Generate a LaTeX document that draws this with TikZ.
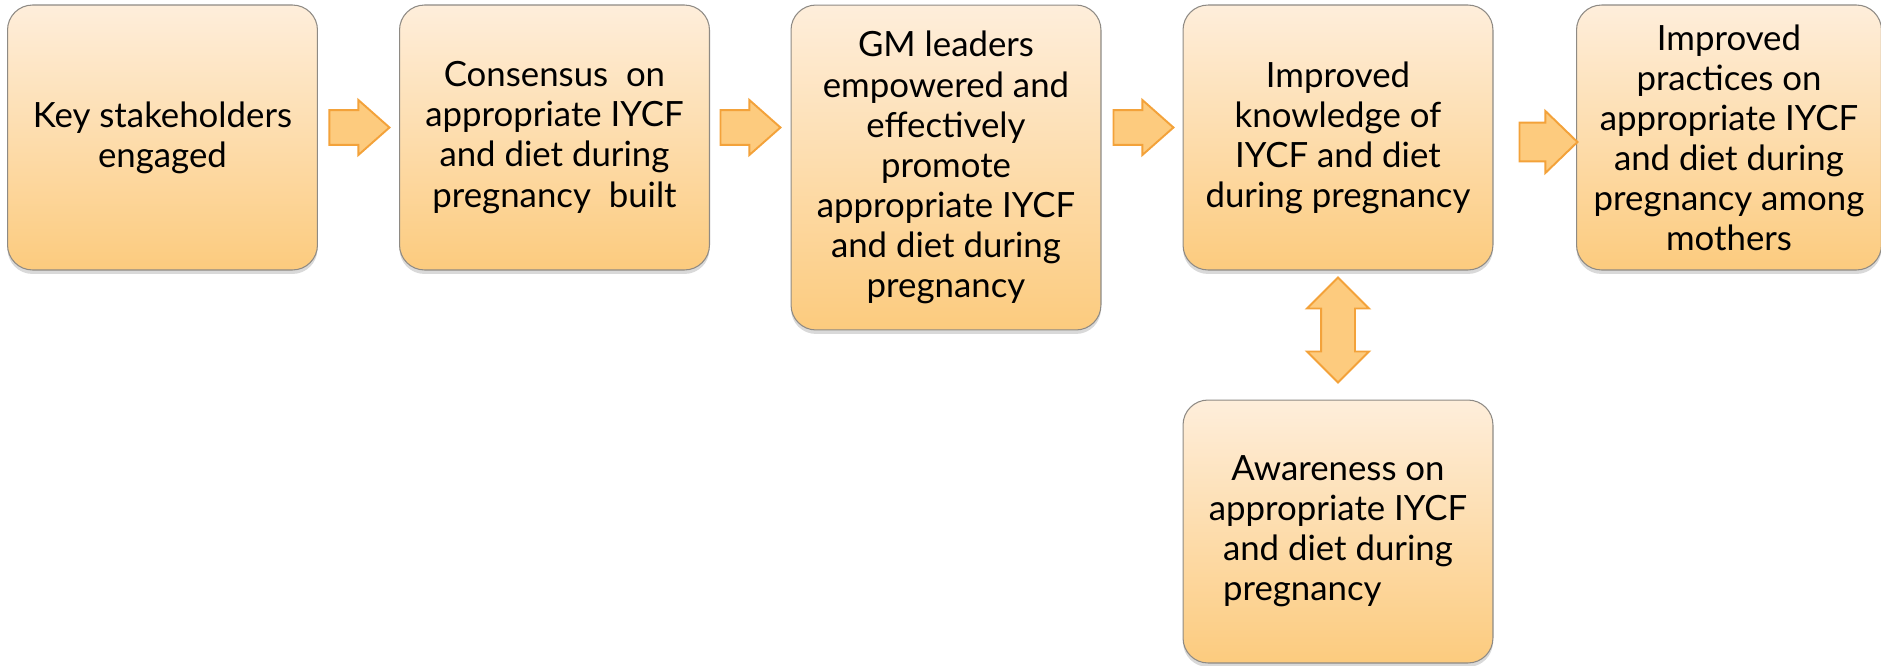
\documentclass[tikz,border=0pt]{standalone}
\usepackage{fontspec}
\setmainfont{Lato}
\usepackage{calc}
\usepackage{tikz}
\usetikzlibrary{shapes.arrows, positioning, calc, shadows}
\definecolor{boxtop}{HTML}{FEEEDB}
\definecolor{boxbottom}{HTML}{FCCB7E}
\definecolor{boxedge}{HTML}{8E8A84}
\definecolor{arrowfill}{HTML}{FDCB7E}
\definecolor{arrowedge}{HTML}{F3A23A}

\tikzset{
  outcome/.style={rectangle, rounded corners=0.5cm, draw=boxedge, line width=0.6pt,
    top color=boxtop, bottom color=boxbottom, inner sep=0pt, align=center,
    minimum width=6.2cm, minimum height=5.3cm,
    font=\fontsize{19.8}{22.8}\selectfont,
    drop shadow={shadow xshift=0pt, shadow yshift=-0.08cm, opacity=0.3}},
  blockarrow/.style={single arrow, draw=arrowedge, fill=arrowfill, line width=1.1pt,
    inner xsep=0pt, inner ysep=0.33cm, minimum height=1.2cm, anchor=tail,
    single arrow head extend=0.2cm, single arrow tip angle=83},
  twowayarrow/.style={double arrow, draw=arrowedge, fill=arrowfill, line width=1.1pt,
    inner xsep=0pt, inner ysep=0.32cm, minimum height=2.1cm,
    double arrow head extend=0.28cm, double arrow tip angle=90, rotate=90}
}

\begin{document}
\begin{tikzpicture}[x=0.02cm, y=-0.02cm]
  \useasboundingbox (0,0) rectangle (1881,666);

  % ===== Top row: chain of results =====
  \node[outcome] (key) at (162.5,137.5) {Key stakeholders\\engaged};
  \node[outcome] (cons) at (554.5,137.5) {Consensus\ \ on\\appropriate IYCF\\and diet during\\pregnancy\ \ built};
  \node[outcome, minimum height=6.5cm] (lead) at (946,167.5) {GM leaders\\empowered and\\effectively\\promote\\appropriate IYCF\\and diet during\\pregnancy};
  \node[outcome] (know) at (1338,137.5) {Improved\\knowledge of\\IYCF and diet\\during pregnancy};
  \node[outcome, minimum width=6.1cm] (prac) at (1729,137.5) {Improved\\practices on\\appropriate IYCF\\and diet during\\pregnancy among\\mothers};

  % ===== Bottom: awareness box =====
  \node[outcome, minimum height=5.26cm] (aware) at (1338,531.5)
    {Awareness on\\appropriate IYCF\\and diet during\\\makebox[\widthof{and diet during}][l]{pregnancy}};

  % Block arrows between boxes (tail just off the left box)
  \node[blockarrow] (a1) at ($(key.east)+(10.5,-10)$) {};
  \node[blockarrow] (a2) at ($(cons.east)+(9.5,-10)$) {};
  \node[blockarrow] (a3) at ($(lead.east |- know.east)+(11,-10)$) {};
  \node[blockarrow, minimum height=1.16cm, inner ysep=0.37cm, single arrow head extend=0.23cm, single arrow tip angle=88]
    (a4) at ($(know.east)+(25,4.5)$) {};

  % Two-way link between knowledge and awareness
  \node[twowayarrow] (a5) at ($($(know.south)!0.5!(aware.north)$)+(0,-5)$) {};
\end{tikzpicture}
\end{document}
